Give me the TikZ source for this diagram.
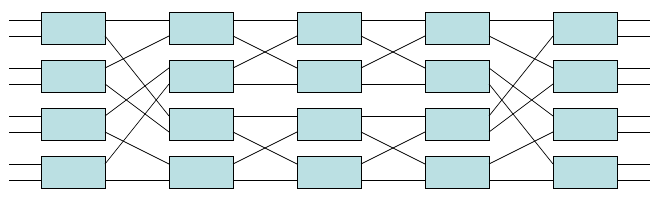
\documentclass[tikz,border=0pt]{standalone}
\usetikzlibrary{calc}
\definecolor{boxfill}{RGB}{187,224,227}
\tikzset{
  swbox/.style={draw=black, line width=0.8pt, fill=boxfill, minimum width=64pt, minimum height=32pt, inner sep=0pt, outer sep=0pt},
  wire/.style={draw=black, line width=0.7pt}
}
\newcommand{\mylink}[3]{%
  \pgfmathtruncatemacro\myra{int(#2/2)+1}%
  \pgfmathtruncatemacro\mysa{8-16*mod(#2,2)}%
  \pgfmathtruncatemacro\myrb{int(#3/2)+1}%
  \pgfmathtruncatemacro\mysb{8-16*mod(#3,2)}%
  \pgfmathtruncatemacro\mync{#1+1}%
  \draw[wire] ([yshift=\mysa pt]c#1r\myra.east) -- ([yshift=\mysb pt]c\mync r\myrb.west);%
}
\begin{document}
\begin{tikzpicture}[x=1pt,y=-1pt]
\useasboundingbox (0,0) rectangle (661,200);
\foreach \c in {1,...,5}{
  \foreach \r in {1,...,4}{
    \node[swbox] (c\c r\r) at ({73+128*(\c-1)},{28+48*(\r-1)}) {};
  }
}
% inputs and outputs
\foreach \r in {1,...,4}{
  \draw[wire] ([yshift=8pt]c1r\r.west) -- ++(-32,0);
  \draw[wire] ([yshift=-8pt]c1r\r.west) -- ++(-32,0);
  \draw[wire] ([yshift=8pt]c5r\r.east) -- ++(33,0);
  \draw[wire] ([yshift=-8pt]c5r\r.east) -- ++(33,0);
}
% stage 1 -> 2 (perfect shuffle)
\foreach \a/\b in {0/0,1/4,2/1,3/5,4/2,5/6,6/3,7/7}{\mylink{1}{\a}{\b}}
% stage 2 -> 3
\foreach \a/\b in {0/0,1/2,2/1,3/3,4/4,5/6,6/5,7/7}{\mylink{2}{\a}{\b}}
% stage 3 -> 4
\foreach \a/\b in {0/0,1/2,2/1,3/3,4/4,5/6,6/5,7/7}{\mylink{3}{\a}{\b}}
% stage 4 -> 5 (inverse shuffle)
\foreach \a/\b in {0/0,1/2,2/4,3/6,4/1,5/3,6/5,7/7}{\mylink{4}{\a}{\b}}
\end{tikzpicture}
\end{document}
